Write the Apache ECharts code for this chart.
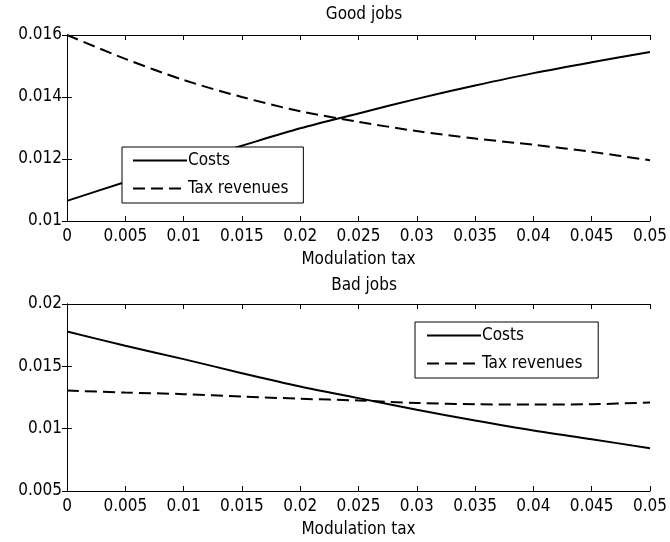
<!DOCTYPE html>
<html>
<head>
<meta charset="utf-8">
<script src="https://cdn.jsdelivr.net/npm/echarts@6/dist/echarts.min.js"></script>
<style>
  html, body { margin: 0; padding: 0; background: #fff; }
  #chart { width: 670px; height: 542px; }
</style>
</head>
<body>
<div id="chart"></div>
<script>
// Modulation tax grid (x values)
const taxRates = [0, 0.005, 0.01, 0.015, 0.02, 0.025, 0.03, 0.035, 0.04, 0.045, 0.05];

// Good jobs
const goodCosts = [0.01065, 0.01126, 0.01186, 0.01243, 0.01299, 0.01347, 0.01394, 0.01437, 0.01477, 0.01512, 0.01545];
const goodTaxRevenues = [0.0160, 0.01523, 0.01455, 0.01400, 0.01354, 0.01320, 0.01290, 0.01266, 0.01246, 0.01223, 0.01196];

// Bad jobs
const badCosts = [0.0178, 0.01665, 0.01558, 0.01445, 0.01338, 0.01245, 0.01151, 0.01065, 0.00985, 0.00915, 0.00843];
const badTaxRevenues = [0.01306, 0.01290, 0.01277, 0.01258, 0.01240, 0.01226, 0.01206, 0.01196, 0.01194, 0.01196, 0.01210];

const xTickLabels = ['0', '0.005', '0.01', '0.015', '0.02', '0.025', '0.03', '0.035', '0.04', '0.045', '0.05'];

const FONT = '"DejaVu Sans Condensed", "Liberation Sans", Arial, sans-serif';
const FS = 17;
const toPairs = ys => taxRates.map((x, i) => [x, ys[i]]);

function fmtX(v) {
  const i = Math.round(v / 0.005);
  return xTickLabels[i] !== undefined ? xTickLabels[i] : '';
}
function fmtY(v) {
  return String(parseFloat(v.toFixed(4)));
}

function xAxes(gridIndex) {
  return [
    {
      type: 'value', gridIndex, min: 0, max: 0.05, interval: 0.005,
      name: 'Modulation tax', nameLocation: 'middle', nameGap: 30,
      nameTextStyle: { color: '#000', fontSize: FS, fontFamily: FONT },
      axisLine: { lineStyle: { color: '#000', width: 1 } },
      axisTick: { inside: true, length: 5, lineStyle: { color: '#000' } },
      axisLabel: { color: '#000', fontSize: FS, fontFamily: FONT, margin: 7, formatter: fmtX },
      splitLine: { show: false }
    },
    {
      type: 'value', gridIndex, position: 'top', min: 0, max: 0.05, interval: 0.005,
      axisLine: { lineStyle: { color: '#000', width: 1 } },
      axisTick: { inside: true, length: 5, lineStyle: { color: '#000' } },
      axisLabel: { show: false },
      splitLine: { show: false }
    }
  ];
}

function yAxes(gridIndex, min, max, interval) {
  return [
    {
      type: 'value', gridIndex, min, max, interval,
      axisLine: { show: true, lineStyle: { color: '#000', width: 1 } },
      axisTick: { show: true, inside: true, length: 5, lineStyle: { color: '#000' } },
      axisLabel: { color: '#000', fontSize: FS, fontFamily: FONT, margin: 5, formatter: fmtY },
      splitLine: { show: false }
    },
    {
      type: 'value', gridIndex, position: 'right', min, max, interval,
      axisLine: { show: true, lineStyle: { color: '#000', width: 1 } },
      axisTick: { show: true, inside: true, length: 5, lineStyle: { color: '#000' } },
      axisLabel: { show: false },
      splitLine: { show: false }
    }
  ];
}

function lineSeries(name, data, xi, yi, dashed) {
  return {
    name, type: 'line', data: toPairs(data),
    xAxisIndex: xi, yAxisIndex: yi,
    smooth: 0.3, symbol: 'none', animation: false,
    lineStyle: { color: '#000', width: 2, type: dashed ? [12, 6] : 'solid' },
    itemStyle: { color: '#000' }
  };
}

const legendBase = {
  orient: 'vertical',
  backgroundColor: '#fff',
  borderColor: '#000',
  borderWidth: 1,
  itemWidth: 54,
  itemHeight: 3,
  itemGap: 11,
  itemStyle: { opacity: 0 },
  textStyle: { color: '#000', fontSize: FS, fontFamily: FONT, padding: [0, 0, 0, -4] }
};

const chart = echarts.init(document.getElementById('chart'), null, { renderer: 'canvas' });
chart.setOption({
  backgroundColor: '#fff',
  animation: false,
  title: [
    { text: 'Good jobs', left: 359, top: 1, textAlign: 'center',
      textStyle: { color: '#000', fontSize: FS, fontWeight: 'normal', fontFamily: FONT } },
    { text: 'Bad jobs', left: 359, top: 272, textAlign: 'center',
      textStyle: { color: '#000', fontSize: FS, fontWeight: 'normal', fontFamily: FONT } }
  ],
  grid: [
    { left: 67, right: 18, top: 35, height: 186 },
    { left: 67, right: 18, top: 304, height: 187 }
  ],
  xAxis: [...xAxes(0), ...xAxes(1)],
  yAxis: [...yAxes(0, 0.01, 0.016, 0.002), ...yAxes(1, 0.005, 0.02, 0.005)],
  legend: [
    Object.assign({}, legendBase, {
      left: 122, top: 147, padding: [5, 15, 6, 10],
      data: [{ name: 'Costs' }, { name: 'Tax revenues' }]
    }),
    Object.assign({}, legendBase, {
      left: 415, top: 322, padding: [5, 11, 6, 11],
      data: [{ name: 'Costs ' }, { name: 'Tax revenues ' }]
    })
  ],
  series: [
    lineSeries('Costs', goodCosts, 0, 0, false),
    lineSeries('Tax revenues', goodTaxRevenues, 0, 0, true),
    lineSeries('Costs ', badCosts, 2, 2, false),
    lineSeries('Tax revenues ', badTaxRevenues, 2, 2, true)
  ]
});
</script>
</body>
</html>
